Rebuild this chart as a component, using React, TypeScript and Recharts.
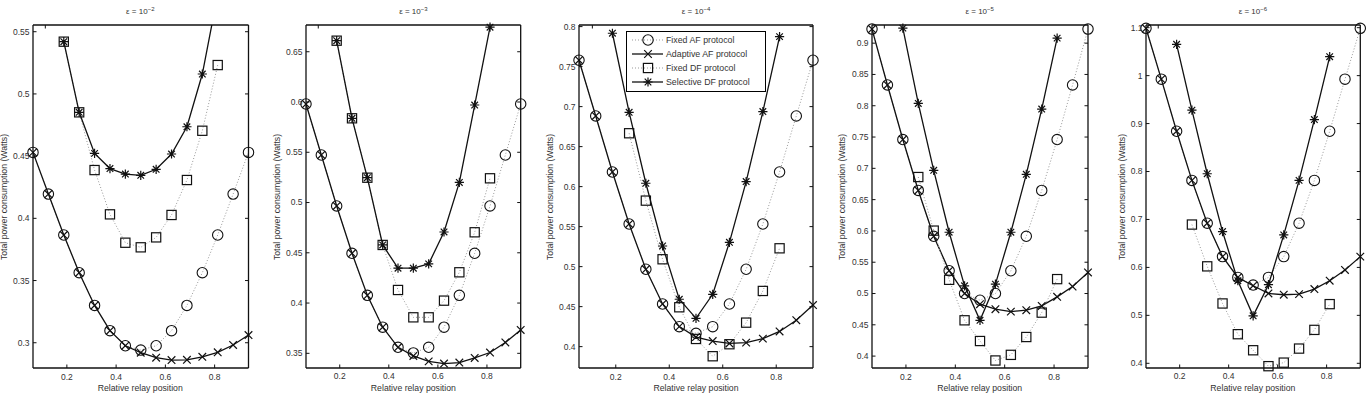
import React from "react";
import { LineChart, Line, XAxis, YAxis, Legend } from "recharts";

// relay positions d/D (x axis), same for every panel
const relayPos = [
  0.0625, 0.125, 0.1875, 0.25, 0.3125, 0.375, 0.4375, 0.5, 0.5625, 0.625,
  0.6875, 0.75, 0.8125, 0.875, 0.9375,
];
const xTicks = [0.2, 0.4, 0.6, 0.8];

const protocolNames = [
  "Fixed AF protocol",
  "Adaptive AF protocol",
  "Fixed DF protocol",
  "Selective DF protocol",
];

// eps = 1e-2
const fixedAF_e2 = [0.453, 0.4195, 0.3866, 0.3563, 0.33, 0.3097, 0.2976, 0.2941, 0.2976, 0.3097, 0.33, 0.3563, 0.3866, 0.4195, 0.453];
const adaptiveAF_e2 = [0.453, 0.4195, 0.3866, 0.3563, 0.33, 0.3097, 0.2976, 0.292, 0.288, 0.2861, 0.2863, 0.2887, 0.2923, 0.2982, 0.3062];
const fixedDF_e2 = [null, null, 0.542, 0.4852, 0.4388, 0.4032, 0.3804, 0.3767, 0.3847, 0.4027, 0.4308, 0.4704, 0.5232, null, null];
const selectiveDF_e2 = [null, null, 0.542, 0.4852, 0.4522, 0.44, 0.4356, 0.4346, 0.4394, 0.4517, 0.4736, 0.516, 0.58, null, null];

// eps = 1e-3
const fixedAF_e3 = [0.598, 0.5473, 0.4966, 0.4495, 0.4077, 0.376, 0.356, 0.3504, 0.356, 0.376, 0.4077, 0.4495, 0.4966, 0.5473, 0.598];
const adaptiveAF_e3 = [0.598, 0.5473, 0.4966, 0.4495, 0.4077, 0.376, 0.356, 0.3474, 0.342, 0.3398, 0.3408, 0.3454, 0.3508, 0.3608, 0.3732];
const fixedDF_e3 = [null, null, 0.661, 0.5838, 0.5247, 0.4578, 0.413, 0.3858, 0.3858, 0.4024, 0.4306, 0.4704, 0.5241, null, null];
const selectiveDF_e3 = [null, null, 0.661, 0.5838, 0.5247, 0.4578, 0.4347, 0.4347, 0.439, 0.4707, 0.52, 0.597, 0.6744, null, null];

// eps = 1e-4
const fixedAF_e4 = [0.758, 0.6883, 0.6183, 0.5533, 0.4967, 0.4533, 0.425, 0.4167, 0.425, 0.4533, 0.4967, 0.5533, 0.6183, 0.6883, 0.758];
const adaptiveAF_e4 = [0.758, 0.6883, 0.6183, 0.5533, 0.4967, 0.4533, 0.425, 0.412, 0.407, 0.404, 0.405, 0.41, 0.419, 0.433, 0.452];
const fixedDF_e4 = [null, null, null, 0.6667, 0.5825, 0.5092, 0.4492, 0.4096, 0.388, 0.403, 0.43, 0.4696, 0.5229, null, null];
const selectiveDF_e4 = [null, null, 0.7917, 0.6929, 0.6042, 0.5258, 0.4592, 0.4354, 0.4654, 0.5304, 0.6063, 0.6938, 0.7875, null, null];

// eps = 1e-5
const fixedAF_e5 = [0.9225, 0.8332, 0.746, 0.6647, 0.5914, 0.5364, 0.5, 0.4893, 0.5, 0.5364, 0.5914, 0.6647, 0.746, 0.8332, 0.9225];
const adaptiveAF_e5 = [0.9225, 0.8332, 0.746, 0.6647, 0.5914, 0.5364, 0.5, 0.4829, 0.4749, 0.4711, 0.4733, 0.4802, 0.4947, 0.5112, 0.5337];
const fixedDF_e5 = [null, null, null, 0.6861, 0.6005, 0.5219, 0.4572, 0.4241, 0.393, 0.402, 0.4305, 0.4695, 0.523, null, null];
const selectiveDF_e5 = [null, null, 0.924, 0.8037, 0.6968, 0.5979, 0.5123, 0.4572, 0.515, 0.5979, 0.6904, 0.7947, 0.908, null, null];

// eps = 1e-6
const fixedAF_e6 = [1.0987, 0.9927, 0.884, 0.7815, 0.6922, 0.6225, 0.5792, 0.5632, 0.5792, 0.6225, 0.6922, 0.7815, 0.884, 0.9927, 1.0987];
const adaptiveAF_e6 = [1.0987, 0.9927, 0.884, 0.7815, 0.6922, 0.6225, 0.5792, 0.5618, 0.5457, 0.543, 0.5443, 0.5548, 0.5722, 0.5946, 0.6225];
const fixedDF_e6 = [null, null, null, 0.6894, 0.6022, 0.5248, 0.4607, 0.4272, 0.394, 0.4014, 0.4307, 0.4697, 0.5234, null, null];
const selectiveDF_e6 = [null, null, 1.0653, 0.9279, 0.7954, 0.6748, 0.5722, 0.499, 0.5639, 0.6678, 0.7815, 0.9084, 1.0395, null, null];

const yTicks_e2 = [0.3, 0.35, 0.4, 0.45, 0.5, 0.55];
const yTicks_e3 = [0.35, 0.4, 0.45, 0.5, 0.55, 0.6, 0.65];
const yTicks_e4 = [0.4, 0.45, 0.5, 0.55, 0.6, 0.65, 0.7, 0.75, 0.8];
const yTicks_e5 = [0.4, 0.45, 0.5, 0.55, 0.6, 0.65, 0.7, 0.75, 0.8, 0.85, 0.9];
const yTicks_e6 = [0.4, 0.5, 0.6, 0.7, 0.8, 0.9, 1, 1.1];

const ink = "#111";
const textCol = "#333";
const font = '"Liberation Sans", Arial, Helvetica, sans-serif';
const PLOT_TOP = 25;
const PLOT_BOTTOM = 368;
const H = 405;

type Kind = "circle" | "cross" | "square" | "star";
const kinds: Kind[] = ["circle", "cross", "square", "star"];
const dotted = [true, false, true, false];

function Marker({ kind, cx, cy }: { kind: Kind; cx: number; cy: number }) {
  if (kind === "circle")
    return <circle cx={cx} cy={cy} r={5.2} fill="none" stroke={ink} strokeWidth={1.1} />;
  if (kind === "square")
    return <rect x={cx - 4.6} y={cy - 4.6} width={9.2} height={9.2} fill="none" stroke={ink} strokeWidth={1.2} />;
  if (kind === "cross") {
    const s = 3.8;
    return (
      <path
        d={`M${cx - s},${cy - s}L${cx + s},${cy + s}M${cx - s},${cy + s}L${cx + s},${cy - s}`}
        stroke={ink}
        strokeWidth={1.2}
        fill="none"
      />
    );
  }
  const h = 4.6;
  const d = 3.3;
  return (
    <path
      d={`M${cx - h},${cy}L${cx + h},${cy}M${cx},${cy - h}L${cx},${cy + h}M${cx - d},${cy - d}L${cx + d},${cy + d}M${cx - d},${cy + d}L${cx + d},${cy - d}`}
      stroke={ink}
      strokeWidth={1.2}
      fill="none"
    />
  );
}

const dotFor = (kind: Kind) => (p: any) => {
  if (p.cx == null || p.cy == null || p.value == null) return <g key={`n-${p.index}`} />;
  return (
    <g key={`d-${p.index}`}>
      <Marker kind={kind} cx={p.cx} cy={p.cy} />
    </g>
  );
};

const BottomTick = (p: any) => (
  <g>
    <line x1={p.x} x2={p.x} y1={p.y} y2={p.y - 3.5} stroke={ink} />
    <text x={p.x} y={p.y + 11.5} textAnchor="middle" fontSize={8.5} fill={textCol} fontFamily={font}>
      {p.payload.value}
    </text>
  </g>
);
const TopTick = (p: any) => <line x1={p.x} x2={p.x} y1={p.y} y2={p.y + 3.5} stroke={ink} />;
const LeftTick = (p: any) => (
  <g>
    <line x1={p.x} x2={p.x + 3.5} y1={p.y} y2={p.y} stroke={ink} />
    <text x={p.x - 3.5} y={p.y} dy="0.35em" textAnchor="end" fontSize={8.5} fill={textCol} fontFamily={font}>
      {p.payload.value}
    </text>
  </g>
);
const RightTick = (p: any) => <line x1={p.x} x2={p.x - 3.5} y1={p.y} y2={p.y} stroke={ink} />;

function LegendBox() {
  return (
    <div
      style={{
        width: 138,
        height: 58,
        border: "1px solid #000",
        background: "#fff",
        fontFamily: font,
        fontSize: 8.8,
        color: textCol,
        paddingTop: 1,
      }}
    >
      {protocolNames.map((name, i) => (
        <div key={name} style={{ display: "flex", alignItems: "center", height: 14.2 }}>
          <svg width={39} height={12} style={{ flex: "none" }}>
            <line
              x1={5}
              x2={36}
              y1={6}
              y2={6}
              stroke={dotted[i] ? "#999" : ink}
              strokeWidth={dotted[i] ? 1 : 1.3}
              strokeDasharray={dotted[i] ? "1 2" : undefined}
            />
            <Marker kind={kinds[i]} cx={21} cy={6} />
          </svg>
          <span style={{ whiteSpace: "nowrap" }}>{name}</span>
        </div>
      ))}
    </div>
  );
}

const panels = [
  { exp: "−2", left: 32.5, right: 248, yDomain: [0.2797, 0.5554], yTicks: yTicks_e2, series: [fixedAF_e2, adaptiveAF_e2, fixedDF_e2, selectiveDF_e2], labelGap: 28.5, overflow: true, legend: false },
  { exp: "−3", left: 306, right: 520.7, yDomain: [0.3354, 0.6766], yTicks: yTicks_e3, series: [fixedAF_e3, adaptiveAF_e3, fixedDF_e3, selectiveDF_e3], labelGap: 29, overflow: false, legend: false },
  { exp: "−4", left: 579, right: 813, yDomain: [0.3733, 0.802], yTicks: yTicks_e4, series: [fixedAF_e4, adaptiveAF_e4, fixedDF_e4, selectiveDF_e4], labelGap: 29, overflow: false, legend: true },
  { exp: "−5", left: 871.7, right: 1087.7, yDomain: [0.381, 0.929], yTicks: yTicks_e5, series: [fixedAF_e5, adaptiveAF_e5, fixedDF_e5, selectiveDF_e5], labelGap: 29.7, overflow: false, legend: false },
  { exp: "−6", left: 1145.7, right: 1360, yDomain: [0.3902, 1.1056], yTicks: yTicks_e6, series: [fixedAF_e6, adaptiveAF_e6, fixedDF_e6, selectiveDF_e6], labelGap: 23.7, overflow: false, legend: false },
];

const keys = ["fixedAF", "adaptiveAF", "fixedDF", "selectiveDF"];

function Panel({ cfg }: { cfg: (typeof panels)[number] }) {
  const leftAxisW = 40;
  const rightAxisW = 10;
  const chartLeft = cfg.left - leftAxisW;
  const width = cfg.right - cfg.left + leftAxisW + rightAxisW;
  const data = relayPos.map((x, i) => {
    const row: any = { x };
    keys.forEach((k, s) => (row[k] = cfg.series[s][i]));
    return row;
  });
  const cx = (cfg.left + cfg.right) / 2;
  const cy = (PLOT_TOP + PLOT_BOTTOM) / 2;
  return (
    <>
      <div style={{ position: "absolute", left: chartLeft, top: 0 }}>
        <LineChart
          width={width}
          height={H}
          data={data}
          margin={{ top: PLOT_TOP - 5, right: 0, bottom: H - PLOT_BOTTOM - 30, left: 0 }}
        >
          <XAxis
            dataKey="x"
            type="number"
            domain={[0.0625, 0.9375]}
            ticks={xTicks}
            height={30}
            tickSize={0}
            tickMargin={0}
            tickLine={false}
            tick={BottomTick}
            axisLine={{ stroke: ink, strokeWidth: 1.3 }}
          />
          <XAxis
            xAxisId="top"
            orientation="top"
            type="number"
            domain={[0.0625, 0.9375]}
            allowDataOverflow
            ticks={xTicks}
            height={5}
            tickSize={0}
            tickMargin={0}
            tickLine={false}
            tick={TopTick}
            axisLine={{ stroke: ink, strokeWidth: 1.3 }}
          />
          <YAxis
            type="number"
            domain={cfg.yDomain}
            allowDataOverflow={cfg.overflow}
            ticks={cfg.yTicks}
            width={leftAxisW}
            tickSize={0}
            tickMargin={0}
            tickLine={false}
            tick={LeftTick}
            axisLine={{ stroke: ink, strokeWidth: 1.3 }}
          />
          <YAxis
            yAxisId="right"
            orientation="right"
            type="number"
            domain={cfg.yDomain}
            allowDataOverflow
            ticks={cfg.yTicks}
            width={rightAxisW}
            tickSize={0}
            tickMargin={0}
            tickLine={false}
            tick={RightTick}
            axisLine={{ stroke: ink, strokeWidth: 1.3 }}
          />
          {keys.map((k, s) => (
            <Line
              key={k}
              dataKey={k}
              name={protocolNames[s]}
              type="linear"
              stroke={dotted[s] ? "#999" : ink}
              strokeWidth={dotted[s] ? 1 : 1.3}
              strokeDasharray={dotted[s] ? "1 2" : undefined}
              dot={dotFor(kinds[s])}
              activeDot={false}
              isAnimationActive={false}
            />
          ))}
          {cfg.legend && (
            <Legend
              layout="vertical"
              align="center"
              verticalAlign="middle"
              content={() => <LegendBox />}
              wrapperStyle={{ left: 626 - chartLeft, top: 30.5, width: 140, height: 60 }}
            />
          )}
        </LineChart>
      </div>
      <div
        style={{
          position: "absolute",
          left: cx - 60,
          width: 120,
          top: 7,
          textAlign: "center",
          fontSize: 8,
          lineHeight: "10px",
          color: textCol,
          fontFamily: font,
        }}
      >
        ε = 10<span style={{ fontSize: 6, position: "relative", top: -3 }}>{cfg.exp}</span>
      </div>
      <div
        style={{
          position: "absolute",
          left: cx - 80,
          width: 160,
          top: 382,
          textAlign: "center",
          fontSize: 8.7,
          lineHeight: "12px",
          color: textCol,
          fontFamily: font,
        }}
      >
        Relative relay position
      </div>
      <div
        style={{
          position: "absolute",
          left: cfg.left - cfg.labelGap - 90,
          top: cy - 6,
          width: 180,
          height: 12,
          textAlign: "center",
          fontSize: 8.7,
          lineHeight: "12px",
          color: textCol,
          fontFamily: font,
          transform: "rotate(-90deg)",
          whiteSpace: "nowrap",
        }}
      >
        Total power consumption (Watts)
      </div>
    </>
  );
}

export default function App() {
  return (
    <div
      style={{
        position: "absolute",
        left: 0,
        top: 0,
        width: 1368,
        height: H,
        background: "#fff",
        overflow: "hidden",
      }}
    >
      {panels.map((p) => (
        <Panel key={p.exp} cfg={p} />
      ))}
    </div>
  );
}
